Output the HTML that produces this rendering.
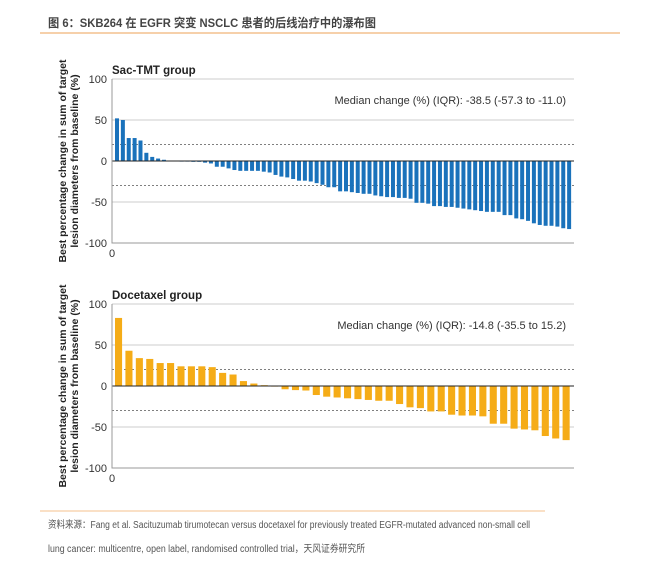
<!DOCTYPE html>
<html><head><meta charset="utf-8"><style>
body{margin:0;background:#fff;}
svg{display:block;font-family:"Liberation Sans","Noto Sans CJK SC",sans-serif;}
</style></head><body>
<svg id="s" width="667" height="572" viewBox="0 0 667 572">
<text x="48" y="27" font-size="12" font-weight="bold" fill="#444" textLength="328" lengthAdjust="spacingAndGlyphs">图 6：SKB264 在 EGFR 突变 NSCLC 患者的后线治疗中的瀑布图</text>
<line x1="40" y1="33" x2="620" y2="33" stroke="#f4c08e" stroke-width="1.5"/>
<line x1="40" y1="511" x2="545" y2="511" stroke="#f4c08e" stroke-width="1"/>
<text x="48" y="528" font-size="10" fill="#555" textLength="482" lengthAdjust="spacingAndGlyphs">资料来源：Fang et al. Sacituzumab tirumotecan versus docetaxel for previously treated EGFR-mutated advanced non-small cell</text>
<text x="48" y="552" font-size="10" fill="#555" textLength="317" lengthAdjust="spacingAndGlyphs">lung cancer: multicentre, open label, randomised controlled trial，天风证券研究所</text>
<g id="c1"></g>
<g id="c2"></g>
</svg>
<script>
const sacValues=[52,50,28,28,25,10,5,3,1.5,0.5,0.5,0,-0.5,-1,-1,-2,-3,-7,-7,-9,-11,-12,-12,-12,-12,-13,-14,-17,-19,-20,-22,-24,-24,-25,-27,-29,-32,-32,-37,-37,-38,-39,-40,-40,-42,-43,-44,-44,-45,-45,-46,-51,-51,-52,-55,-55,-56,-56,-57,-58,-59,-60,-61,-62,-62,-62,-66,-66,-70,-71,-73,-76,-78,-79,-79,-80,-82,-83];
const docValues=[83,43,34,33,28,28,24,24,24,23,16,14,6,3,1,-0.5,-4,-5,-5.5,-11,-13,-14,-15,-16,-17,-18,-18,-22,-26,-27,-31,-31,-35,-36,-36,-37,-46,-46,-52,-53,-54,-61,-64,-66];
const yTicks=[100,50,0,-50,-100];
const dashedLines=[20,-30];
const NS='http://www.w3.org/2000/svg';
function mk(p,t,a){const e=document.createElementNS(NS,t);for(const k in a)e.setAttribute(k,a[k]);p.appendChild(e);return e;}
function draw(g,values,top,color,title,median,mx){
  const L=112,R=574,B=top+164;
  const y=v=>top+(100-v)*164/200;
  let t=mk(g,'text',{x:112,y:top-5,'font-size':11.5,'font-weight':'bold',fill:'#222'});t.textContent=title;
  
  
  yTicks.forEach(v=>{
    if(v!==0&&v!==-100){const l=mk(g,'line',{x1:L,x2:R,y1:y(v),y2:y(v),stroke:'#ccc','stroke-width':1});
      
      }
    const tx=mk(g,'text',{x:107,y:y(v)+4,'font-size':11,fill:'#333','text-anchor':'end'});tx.textContent=v;
    
    
  });
  dashedLines.forEach(v=>{const l=mk(g,'line',{x1:L,x2:R,y1:y(v),y2:y(v),stroke:'#555','stroke-width':0.7,'stroke-dasharray':'2,2'});
    
    });
  const n=values.length,sp=(R-L-4)/n,bw=sp*0.68;
  values.forEach((v,i)=>{
    const x=L+3+i*sp;const y0=y(0),yv=y(v);
    const r=mk(g,'rect',{x:x,y:Math.min(y0,yv),width:bw,height:Math.max(Math.abs(yv-y0),0.6),fill:color});
    
    
  });
  const z=mk(g,'line',{x1:L,x2:R,y1:y(0),y2:y(0),stroke:'#222','stroke-width':1});
  
  
  const ax=mk(g,'path',{d:`M${L},${top} V${B} H${R}`,fill:'none',stroke:'#999','stroke-width':1});
  
  
  const x0=mk(g,'text',{x:112,y:B+14,'font-size':11,fill:'#333','text-anchor':'middle'});x0.textContent='0';
  
  
  const m=mk(g,'text',{x:566,y:top+25,'font-size':11,fill:'#333','text-anchor':'end'});m.textContent=median;
  
  
  const yt=mk(g,'text',{transform:`translate(66,${top+82}) rotate(-90)`,'font-size':10.5,'font-weight':'bold',fill:'#222','text-anchor':'middle'});
  
  
  const a=mk(yt,'tspan',{x:0,dy:0});a.textContent='Best percentage change in sum of target';
  const b=mk(yt,'tspan',{x:0,dy:12});b.textContent='lesion diameters from baseline (%)';
}
draw(document.getElementById('c1'),sacValues,79,'#1a72bb','Sac-TMT group','Median change (%) (IQR): -38.5 (-57.3 to -11.0)');
draw(document.getElementById('c2'),docValues,304,'#f5ac17','Docetaxel group','Median change (%) (IQR): -14.8 (-35.5 to 15.2)');
</script>
</body></html>
